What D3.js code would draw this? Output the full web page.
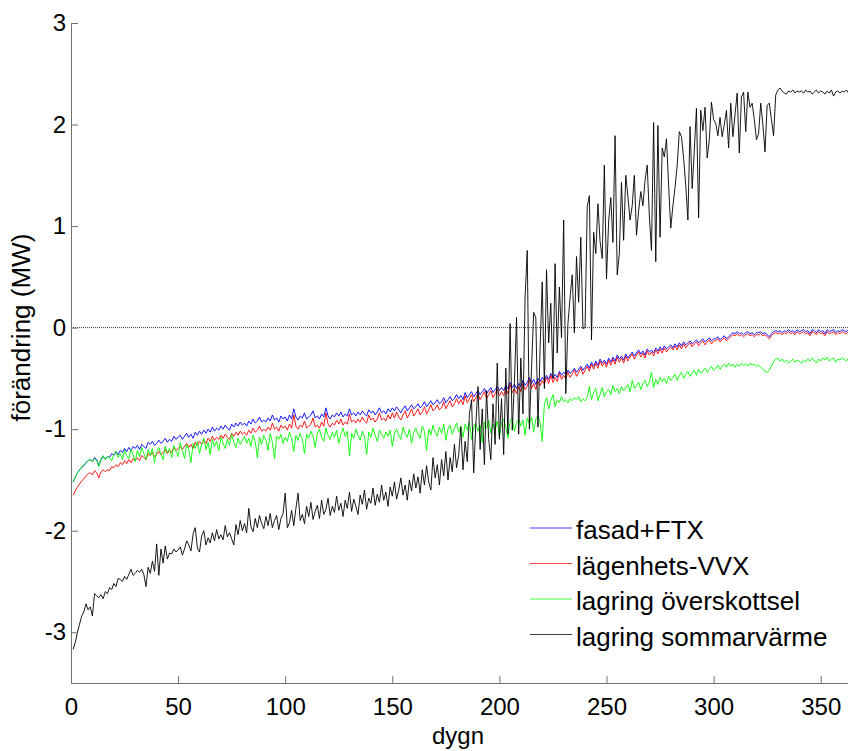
<!DOCTYPE html>
<html>
<head>
<meta charset="utf-8">
<script src="https://cdn.jsdelivr.net/npm/d3@7"></script>
<style>
  body { margin: 0; background: #fff; }
  svg { display: block; font-family: "Liberation Sans", Arial, Helvetica, sans-serif; }
</style>
</head>
<body>
<div id="chart"></div>
<script>
// one value per day, day 1..365 (MW)
const fasadFTX = [
  -1.52,-1.47,-1.43,-1.40,-1.38,-1.36,-1.33,-1.31,-1.30,-1.32,
  -1.28,-1.30,-1.36,-1.30,-1.27,-1.29,-1.27,-1.28,-1.24,-1.26,
  -1.22,-1.25,-1.21,-1.23,-1.19,-1.22,-1.18,-1.21,-1.17,-1.19,
  -1.16,-1.20,-1.15,-1.17,-1.19,-1.13,-1.15,-1.12,-1.16,-1.14,
  -1.11,-1.14,-1.12,-1.09,-1.13,-1.10,-1.12,-1.07,-1.10,-1.08,
  -1.06,-1.10,-1.07,-1.04,-1.08,-1.05,-1.09,-1.03,-1.06,-1.02,
  -1.05,-1.01,-1.04,-1.00,-1.03,-0.98,-1.02,-0.99,-1.01,-0.97,
  -1.00,-0.96,-0.99,-1.01,-0.95,-0.98,-0.94,-0.97,-0.93,-0.96,
  -0.94,-0.97,-0.92,-0.95,-0.90,-0.94,-0.92,-0.88,-0.93,-0.91,
  -0.93,-0.89,-0.92,-0.86,-0.91,-0.89,-0.93,-0.87,-0.90,-0.88,
  -0.92,-0.86,-0.90,-0.80,-0.88,-0.91,-0.87,-0.89,-0.84,-0.90,
  -0.88,-0.86,-0.82,-0.89,-0.87,-0.90,-0.85,-0.88,-0.79,-0.87,
  -0.90,-0.86,-0.88,-0.84,-0.87,-0.83,-0.88,-0.85,-0.87,-0.80,
  -0.86,-0.84,-0.87,-0.83,-0.86,-0.82,-0.85,-0.87,-0.81,-0.84,
  -0.82,-0.86,-0.83,-0.79,-0.84,-0.82,-0.85,-0.80,-0.83,-0.79,
  -0.82,-0.78,-0.81,-0.84,-0.80,-0.77,-0.82,-0.79,-0.76,-0.80,
  -0.78,-0.75,-0.79,-0.77,-0.73,-0.78,-0.75,-0.72,-0.76,-0.74,
  -0.71,-0.75,-0.73,-0.69,-0.74,-0.71,-0.68,-0.72,-0.70,-0.66,
  -0.70,-0.67,-0.71,-0.64,-0.69,-0.66,-0.63,-0.68,-0.65,-0.62,
  -0.66,-0.63,-0.60,-0.65,-0.62,-0.59,-0.64,-0.61,-0.58,-0.62,
  -0.59,-0.62,-0.57,-0.60,-0.54,-0.59,-0.56,-0.60,-0.55,-0.58,
  -0.52,-0.57,-0.54,-0.49,-0.55,-0.51,-0.56,-0.50,-0.53,-0.49,
  -0.52,-0.47,-0.51,-0.45,-0.50,-0.46,-0.49,-0.43,-0.47,-0.44,
  -0.46,-0.42,-0.45,-0.43,-0.40,-0.44,-0.41,-0.38,-0.42,-0.39,
  -0.36,-0.40,-0.34,-0.38,-0.33,-0.37,-0.31,-0.35,-0.32,-0.36,
  -0.30,-0.34,-0.29,-0.33,-0.27,-0.31,-0.28,-0.32,-0.26,-0.30,
  -0.27,-0.24,-0.28,-0.25,-0.22,-0.26,-0.23,-0.27,-0.21,-0.24,
  -0.22,-0.25,-0.20,-0.23,-0.19,-0.22,-0.18,-0.21,-0.19,-0.17,
  -0.20,-0.16,-0.19,-0.15,-0.18,-0.14,-0.17,-0.15,-0.13,-0.16,
  -0.14,-0.12,-0.15,-0.13,-0.11,-0.14,-0.12,-0.10,-0.13,-0.11,
  -0.11,-0.09,-0.12,-0.10,-0.08,-0.11,-0.09,-0.07,-0.05,-0.06,
  -0.04,-0.06,-0.05,-0.07,-0.05,-0.04,-0.06,-0.05,-0.07,-0.05,
  -0.05,-0.04,-0.06,-0.05,-0.07,-0.09,-0.06,-0.04,-0.03,-0.04,
  -0.03,-0.05,-0.03,-0.04,-0.02,-0.04,-0.03,-0.05,-0.02,-0.04,
  -0.03,-0.02,-0.04,-0.03,-0.06,-0.02,-0.03,-0.05,-0.02,-0.04,
  -0.03,-0.06,-0.02,-0.04,-0.03,-0.02,-0.05,-0.03,-0.04,-0.02,
  -0.03,-0.04,-0.02,-0.03,-0.04
];

const lagenhetsVVX = [
  -1.65,-1.61,-1.57,-1.54,-1.51,-1.49,-1.46,-1.44,-1.43,-1.45,
  -1.41,-1.43,-1.48,-1.42,-1.40,-1.42,-1.40,-1.41,-1.37,-1.38,
  -1.35,-1.37,-1.33,-1.35,-1.31,-1.34,-1.30,-1.33,-1.29,-1.31,
  -1.28,-1.31,-1.26,-1.28,-1.30,-1.24,-1.26,-1.23,-1.27,-1.25,
  -1.22,-1.25,-1.23,-1.20,-1.24,-1.21,-1.23,-1.18,-1.21,-1.19,
  -1.17,-1.20,-1.17,-1.14,-1.18,-1.15,-1.19,-1.13,-1.16,-1.12,
  -1.15,-1.11,-1.14,-1.09,-1.12,-1.07,-1.11,-1.08,-1.10,-1.06,
  -1.09,-1.05,-1.08,-1.10,-1.04,-1.07,-1.03,-1.06,-1.02,-1.05,
  -1.03,-1.06,-1.01,-1.04,-0.99,-1.03,-1.01,-0.97,-1.02,-1.00,
  -1.02,-0.98,-1.01,-0.94,-1.00,-0.98,-1.02,-0.96,-0.99,-0.97,
  -1.01,-0.95,-0.99,-0.86,-0.97,-1.00,-0.96,-0.98,-0.92,-0.99,
  -0.97,-0.95,-0.89,-0.98,-0.96,-0.99,-0.93,-0.97,-0.84,-0.95,
  -0.98,-0.94,-0.96,-0.91,-0.95,-0.90,-0.96,-0.93,-0.95,-0.85,
  -0.93,-0.91,-0.94,-0.90,-0.93,-0.88,-0.92,-0.94,-0.86,-0.91,
  -0.89,-0.93,-0.90,-0.84,-0.91,-0.89,-0.92,-0.86,-0.90,-0.84,
  -0.89,-0.83,-0.88,-0.91,-0.86,-0.82,-0.89,-0.85,-0.80,-0.87,
  -0.84,-0.80,-0.86,-0.83,-0.78,-0.85,-0.81,-0.76,-0.82,-0.80,
  -0.76,-0.81,-0.79,-0.73,-0.80,-0.76,-0.72,-0.78,-0.75,-0.70,
  -0.75,-0.71,-0.76,-0.67,-0.74,-0.70,-0.66,-0.73,-0.69,-0.65,
  -0.71,-0.67,-0.63,-0.70,-0.66,-0.62,-0.69,-0.65,-0.61,-0.67,
  -0.63,-0.67,-0.60,-0.65,-0.56,-0.64,-0.60,-0.65,-0.58,-0.63,
  -0.55,-0.61,-0.58,-0.51,-0.60,-0.55,-0.61,-0.53,-0.57,-0.52,
  -0.56,-0.49,-0.55,-0.47,-0.54,-0.49,-0.53,-0.45,-0.51,-0.47,
  -0.50,-0.44,-0.49,-0.46,-0.42,-0.48,-0.44,-0.40,-0.46,-0.42,
  -0.38,-0.43,-0.36,-0.41,-0.35,-0.40,-0.33,-0.38,-0.34,-0.39,
  -0.32,-0.37,-0.31,-0.36,-0.29,-0.34,-0.30,-0.35,-0.28,-0.33,
  -0.29,-0.26,-0.31,-0.27,-0.24,-0.29,-0.25,-0.30,-0.23,-0.27,
  -0.24,-0.28,-0.22,-0.26,-0.21,-0.25,-0.20,-0.24,-0.21,-0.19,
  -0.22,-0.18,-0.22,-0.17,-0.21,-0.16,-0.20,-0.17,-0.15,-0.19,
  -0.16,-0.14,-0.18,-0.15,-0.13,-0.17,-0.14,-0.12,-0.16,-0.13,
  -0.13,-0.11,-0.14,-0.12,-0.10,-0.13,-0.11,-0.09,-0.07,-0.08,
  -0.06,-0.08,-0.07,-0.09,-0.07,-0.06,-0.08,-0.07,-0.09,-0.07,
  -0.07,-0.06,-0.08,-0.07,-0.09,-0.11,-0.08,-0.06,-0.05,-0.06,
  -0.05,-0.07,-0.05,-0.06,-0.04,-0.06,-0.05,-0.07,-0.04,-0.06,
  -0.05,-0.04,-0.06,-0.05,-0.08,-0.04,-0.05,-0.07,-0.04,-0.06,
  -0.05,-0.08,-0.04,-0.06,-0.05,-0.04,-0.07,-0.05,-0.06,-0.04,
  -0.05,-0.06,-0.04,-0.05,-0.06
];

const lagringOverskottsel = [
  -1.52,-1.47,-1.43,-1.40,-1.37,-1.35,-1.33,-1.31,-1.30,-1.32,
  -1.29,-1.31,-1.37,-1.29,-1.26,-1.30,-1.27,-1.28,-1.31,-1.25,
  -1.22,-1.28,-1.24,-1.30,-1.21,-1.26,-1.29,-1.20,-1.25,-1.32,
  -1.21,-1.27,-1.18,-1.24,-1.30,-1.20,-1.26,-1.19,-1.33,-1.22,
  -1.18,-1.25,-1.30,-1.17,-1.23,-1.19,-1.28,-1.16,-1.22,-1.27,
  -1.13,-1.21,-1.29,-1.15,-1.20,-1.33,-1.14,-1.19,-1.12,-1.24,
  -1.15,-1.09,-1.20,-1.13,-1.25,-1.10,-1.17,-1.12,-1.21,-1.08,
  -1.14,-1.19,-1.10,-1.16,-1.05,-1.13,-1.18,-1.09,-1.15,-1.11,
  -1.07,-1.14,-1.09,-1.17,-1.06,-1.12,-1.28,-1.08,-1.15,-1.06,
  -1.11,-1.21,-1.04,-1.13,-1.29,-1.07,-1.10,-1.05,-1.14,-1.08,
  -1.12,-1.03,-1.09,-1.22,-1.06,-1.11,-1.04,-1.10,-1.24,-1.05,
  -1.09,-1.02,-1.07,-1.18,-1.04,-1.00,-1.08,-1.12,-0.99,-1.06,
  -1.10,-1.03,-1.08,-1.01,-1.14,-1.05,-0.99,-1.07,-1.02,-1.26,
  -1.04,-1.09,-1.00,-1.06,-1.11,-1.02,-1.07,-1.25,-1.03,-1.08,
  -0.99,-1.06,-1.12,-1.01,-1.05,-1.09,-1.03,-1.07,-1.01,-1.17,
  -1.04,-1.00,-1.06,-1.10,-0.98,-1.04,-1.08,-1.00,-1.14,-1.03,
  -0.99,-1.05,-1.09,-0.97,-1.02,-1.21,-1.00,-1.06,-0.96,-1.03,
  -1.07,-0.98,-1.04,-0.95,-1.11,-1.00,-0.96,-1.05,-0.99,-0.94,
  -1.03,-0.97,-1.08,-0.95,-1.01,-0.93,-1.10,-0.98,-0.94,-1.02,
  -0.96,-1.13,-0.93,-0.99,-0.91,-1.04,-0.95,-1.00,-0.92,-1.07,
  -0.94,-0.90,-0.98,-1.09,-0.92,-0.89,-1.02,-0.94,-0.90,-0.97,
  -0.91,-1.06,-0.89,-0.95,-0.88,-1.03,-0.90,-0.87,-0.93,-1.12,
  -0.75,-0.69,-0.80,-0.72,-0.66,-0.78,-0.71,-0.74,-0.68,-0.73,
  -0.71,-0.74,-0.70,-0.72,-0.69,-0.71,-0.68,-0.73,-0.70,-0.72,
  -0.69,-0.58,-0.71,-0.64,-0.60,-0.72,-0.66,-0.59,-0.68,-0.63,
  -0.61,-0.66,-0.57,-0.63,-0.60,-0.65,-0.58,-0.62,-0.59,-0.56,
  -0.63,-0.52,-0.60,-0.57,-0.54,-0.61,-0.55,-0.52,-0.58,-0.54,
  -0.44,-0.59,-0.51,-0.56,-0.49,-0.53,-0.50,-0.55,-0.48,-0.52,
  -0.49,-0.46,-0.52,-0.47,-0.44,-0.50,-0.46,-0.43,-0.48,-0.45,
  -0.42,-0.47,-0.41,-0.45,-0.43,-0.40,-0.44,-0.41,-0.38,-0.42,
  -0.40,-0.37,-0.41,-0.38,-0.36,-0.39,-0.35,-0.38,-0.36,-0.39,
  -0.36,-0.38,-0.35,-0.37,-0.36,-0.38,-0.35,-0.37,-0.36,-0.38,
  -0.37,-0.39,-0.41,-0.43,-0.44,-0.42,-0.38,-0.34,-0.31,-0.30,
  -0.33,-0.31,-0.34,-0.32,-0.35,-0.33,-0.31,-0.34,-0.32,-0.33,
  -0.35,-0.32,-0.34,-0.31,-0.33,-0.30,-0.32,-0.35,-0.31,-0.33,
  -0.30,-0.32,-0.29,-0.33,-0.31,-0.30,-0.34,-0.31,-0.32,-0.30,
  -0.31,-0.33,-0.30,-0.32,-0.31
];

const lagringSommarvarme = [
  -3.17,-3.10,-3.00,-2.92,-2.84,-2.80,-2.72,-2.78,-2.75,-2.84,
  -2.62,-2.64,-2.66,-2.63,-2.67,-2.60,-2.62,-2.56,-2.58,-2.52,
  -2.55,-2.47,-2.48,-2.50,-2.45,-2.48,-2.43,-2.38,-2.44,-2.42,
  -2.39,-2.41,-2.38,-2.43,-2.55,-2.36,-2.42,-2.30,-2.40,-2.13,
  -2.44,-2.18,-2.32,-2.15,-2.28,-2.22,-2.23,-2.18,-2.21,-2.19,
  -2.16,-2.24,-2.18,-2.10,-2.14,-2.20,-2.03,-1.97,-2.17,-2.21,
  -2.05,-2.00,-2.14,-2.07,-2.12,-2.02,-2.10,-1.99,-2.08,-2.04,
  -2.09,-1.95,-2.06,-2.02,-2.08,-2.14,-1.94,-2.04,-1.90,-2.00,
  -1.93,-2.02,-1.78,-1.96,-2.01,-1.88,-1.97,-1.85,-1.93,-1.98,
  -1.86,-1.95,-1.83,-1.97,-1.90,-1.85,-1.99,-1.88,-1.83,-1.63,
  -1.97,-1.92,-1.80,-1.95,-1.78,-1.63,-1.90,-1.84,-1.93,-1.76,
  -1.86,-1.72,-1.89,-1.81,-1.75,-1.88,-1.70,-1.84,-1.79,-1.68,
  -1.85,-1.76,-1.82,-1.66,-1.80,-1.73,-1.86,-1.70,-1.78,-1.62,
  -1.81,-1.69,-1.76,-1.84,-1.65,-1.74,-1.60,-1.79,-1.68,-1.73,
  -1.58,-1.75,-1.64,-1.72,-1.55,-1.70,-1.62,-1.76,-1.57,-1.66,
  -1.52,-1.69,-1.60,-1.48,-1.65,-1.55,-1.70,-1.50,-1.61,-1.44,
  -1.58,-1.47,-1.63,-1.40,-1.55,-1.36,-1.52,-1.60,-1.28,-1.48,
  -1.35,-1.55,-1.30,-1.46,-1.22,-1.50,-1.28,-1.42,-1.15,-1.38,
  -1.25,-0.98,-1.40,-1.12,-1.32,-0.85,-0.71,-1.43,-0.95,-0.58,
  -1.20,-0.80,-1.35,-0.62,-1.10,-1.30,-0.75,-1.15,-0.35,-1.10,
  -0.70,-1.25,-0.40,-1.05, 0.04,-1.01,-0.55, 0.10,-1.05,-0.30,
  -0.85, 0.30, 0.76,-1.00,-0.40, 0.15, 0.10,-0.98,-0.20, 0.45,
  -0.60, 0.57,-0.15, 0.24,-0.50, 0.63,-0.25, 0.40,-0.10, 1.06,
  -0.65, 0.04, 0.30, 0.52,-0.05, 0.70, 0.25, 0.89,-0.01, 0.00,
   1.19, 1.30,-0.12, 0.94, 0.73, 1.22, 0.85, 0.68, 1.60, 0.48,
   1.05, 1.28, 0.84, 1.89, 0.52, 0.73, 1.43, 0.86, 1.50, 1.29,
   1.06, 1.20, 1.50, 0.91, 1.15, 1.34, 1.20, 1.45, 1.60, 1.10,
   0.76, 2.02, 0.65, 1.99, 0.89, 1.77, 1.68, 1.86, 1.40, 0.98,
   1.20, 1.38, 1.60, 1.93, 1.88, 1.67, 1.40, 1.06, 1.98, 1.37,
   1.75, 2.16, 1.08, 2.14, 1.94, 2.17, 1.67, 1.85, 2.22, 2.05,
   2.01, 1.89, 2.07, 1.88, 2.00, 2.14, 1.77, 2.21, 1.88, 2.10,
   2.31, 1.72, 2.27, 2.32, 1.93, 2.32, 2.17, 2.21, 2.05, 1.85,
   1.91, 2.21, 2.00, 1.73, 2.19, 2.21, 2.05, 1.89, 2.29, 2.34,
   2.36, 2.33, 2.31, 2.30, 2.33, 2.32, 2.34, 2.31, 2.33, 2.32,
   2.33, 2.31, 2.34, 2.32, 2.33, 2.30, 2.32, 2.34, 2.31, 2.33,
   2.32, 2.30, 2.33, 2.31, 2.34, 2.28, 2.32, 2.33, 2.31, 2.33,
   2.32, 2.34, 2.31, 2.33, 2.32
];

const seriesNames = ['fasad+FTX', 'lägenhets-VVX', 'lagring överskottsel', 'lagring sommarvärme'];
const seriesColors = ['#0000ff', '#ff0000', '#00ff00', '#000000'];
const xTicks = [0, 50, 100, 150, 200, 250, 300, 350];
const yTicks = [-3, -2, -1, 0, 1, 2, 3];

const width = 848;
const height = 751;
const margin = { top: 23, left: 71, bottom: 68 };

const svg = d3.select('#chart')
  .append('svg')
  .attr('width', width)
  .attr('height', height);

// x reaches day 365 a little past the right edge, as in the original figure
const xScale = d3.scaleLinear()
  .domain([0, 365])
  .range([margin.left, margin.left + 365 * 2.142]);

const yScale = d3.scaleLinear()
  .domain([-3.5, 3])
  .range([height - margin.bottom, margin.top]);

// zero reference
svg.append('line')
  .attr('x1', xScale(0))
  .attr('x2', width)
  .attr('y1', yScale(0))
  .attr('y2', yScale(0))
  .attr('stroke', '#000')
  .attr('stroke-width', 0.8)
  .attr('stroke-dasharray', '1,1');

const line = d3.line()
  .x((d, i) => xScale(i + 1))
  .y(d => yScale(d));

const allSeries = [fasadFTX, lagenhetsVVX, lagringOverskottsel, lagringSommarvarme];

allSeries.forEach((values, i) => {
  svg.append('path')
    .datum(values)
    .attr('d', line)
    .attr('fill', 'none')
    .attr('stroke', seriesColors[i])
    .attr('stroke-width', 0.9)
    .attr('stroke-linejoin', 'round');
});

// axes, ticks pointing inward
const xAxis = svg.append('g')
  .attr('transform', `translate(0,${yScale(-3.5)})`)
  .call(d3.axisBottom(xScale).tickValues(xTicks).tickFormat(d => String(d))
    .tickSizeInner(-7).tickSizeOuter(0).tickPadding(15));

const yAxis = svg.append('g')
  .attr('transform', `translate(${xScale(0)},0)`)
  .call(d3.axisLeft(yScale).tickValues(yTicks).tickFormat(d => String(d))
    .tickSizeInner(-7).tickSizeOuter(0).tickPadding(5));

[xAxis, yAxis].forEach(ax => {
  ax.selectAll('path, line').attr('stroke', '#707070').attr('stroke-width', 1);
  ax.selectAll('text').attr('fill', '#000').style('font-size', '24px');
});

// axis labels
svg.append('text')
  .attr('x', 458)
  .attr('y', 744)
  .attr('text-anchor', 'middle')
  .style('font-size', '24px')
  .text('dygn');

svg.append('text')
  .attr('transform', `translate(30,${yScale(0)}) rotate(-90)`)
  .attr('text-anchor', 'middle')
  .style('font-size', '26px')
  .text('förändring (MW)');

// legend
const legend = svg.append('g').attr('transform', 'translate(530,528)');

seriesNames.forEach((name, i) => {
  const row = legend.append('g').attr('transform', `translate(0,${i * 35.5})`);
  row.append('line')
    .attr('x1', 0)
    .attr('x2', 42)
    .attr('stroke', seriesColors[i])
    .attr('stroke-opacity', 0.75)
    .attr('stroke-width', 1);
  row.append('text')
    .attr('x', 46)
    .attr('y', 11)
    .style('font-size', '26px')
    .text(name);
});
</script>
</body>
</html>
